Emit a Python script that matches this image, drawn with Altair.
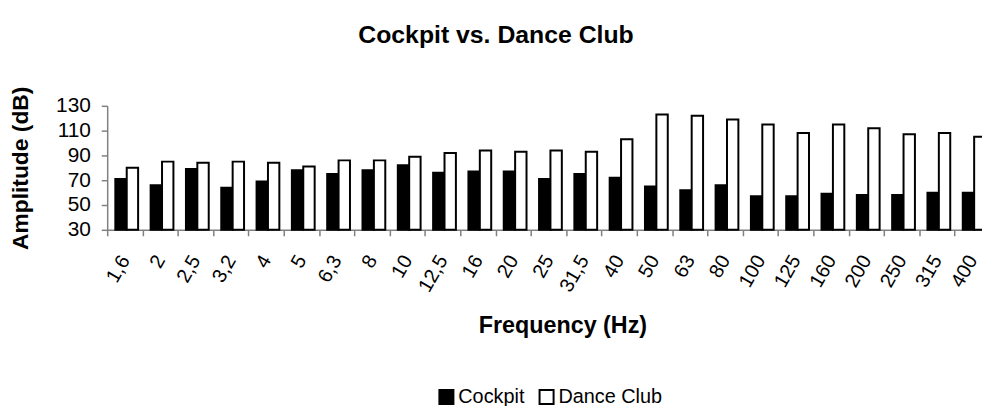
import altair as alt
import pandas as pd

freqs = ["1,6", "2", "2,5", "3,2", "4", "5", "6,3", "8", "10", "12,5", "16", "20", "25",
         "31,5", "40", "50", "63", "80", "100", "125", "160", "200", "250", "315", "400"]
cockpit = [71, 66, 79, 64, 69, 78, 75, 78, 82, 76, 77, 77, 71, 75, 72, 65, 62, 66, 57, 57,
           59, 58, 58, 60, 60]
dance_club = [80, 85, 84, 85, 84, 81, 86, 86, 89, 92, 94, 93, 94, 93, 103, 123, 122, 119,
              115, 108, 115, 112, 107, 108, 105]
series = ["Cockpit", "Dance Club"]
y_ticks = [30, 50, 70, 90, 110, 130]

rows = []
for f, c, d in zip(freqs, cockpit, dance_club):
    rows.append({"freq": f, "series": series[0], "value": c})
    rows.append({"freq": f, "series": series[1], "value": d})
df = pd.DataFrame(rows)

FONT = "Liberation Sans"
GRAY = "#808080"

chart = alt.Chart(df).mark_bar(stroke="black", strokeWidth=2).encode(
    x=alt.X("freq:N", sort=freqs,
            scale=alt.Scale(range=[0, 890], paddingInner=0, paddingOuter=0),
            axis=alt.Axis(title="Frequency (Hz)", labelAngle=300, tickBand="extent",
                          labelFontSize=20, labelPadding=21, tickSize=6, titleFontSize=23.5,
                          titleX=459, titleY=97, titleBaseline="middle", titleAlign="center")),
    xOffset=alt.XOffset("series:N", sort=series,
                        scale=alt.Scale(paddingInner=0, paddingOuter=0.55, align=0.65)),
    y=alt.Y("value:Q", scale=alt.Scale(domain=[30, 130], nice=False, zero=False),
            axis=alt.Axis(values=y_ticks, title="Amplitude (dB)", grid=False,
                          labelFontSize=21, labelPadding=11, tickSize=6, titlePadding=23,
                          titleFontSize=23)),
    y2=alt.datum(30),
    color=alt.Color("series:N", sort=series,
                    scale=alt.Scale(domain=series, range=["black", "white"]),
                    legend=alt.Legend(title=None, orient="none", direction="horizontal",
                                      legendX=332, legendY=283, symbolType="square",
                                      symbolSize=200, symbolStrokeColor="black",
                                      symbolStrokeWidth=2, labelFontSize=20,
                                      labelOffset=2, columnPadding=10, labelFont=FONT)),
).properties(
    width=882, height=125, autosize="none",
    padding={"left": 100, "top": 97, "right": 0, "bottom": 176},
    title=alt.TitleParams("Cockpit vs. Dance Club", fontSize=25, fontWeight="bold",
                          font=FONT, anchor="middle", dx=-49, offset=38, color="black"),
).configure_axis(
    labelFont=FONT, titleFont=FONT, labelColor="black", titleColor="black",
    titleFontWeight="bold", domainColor=GRAY, tickColor=GRAY,
    domainWidth=1.5, tickWidth=1.5,
).configure_view(stroke=None)

chart.save("out.html", embed_options={"renderer": "svg", "actions": False})
